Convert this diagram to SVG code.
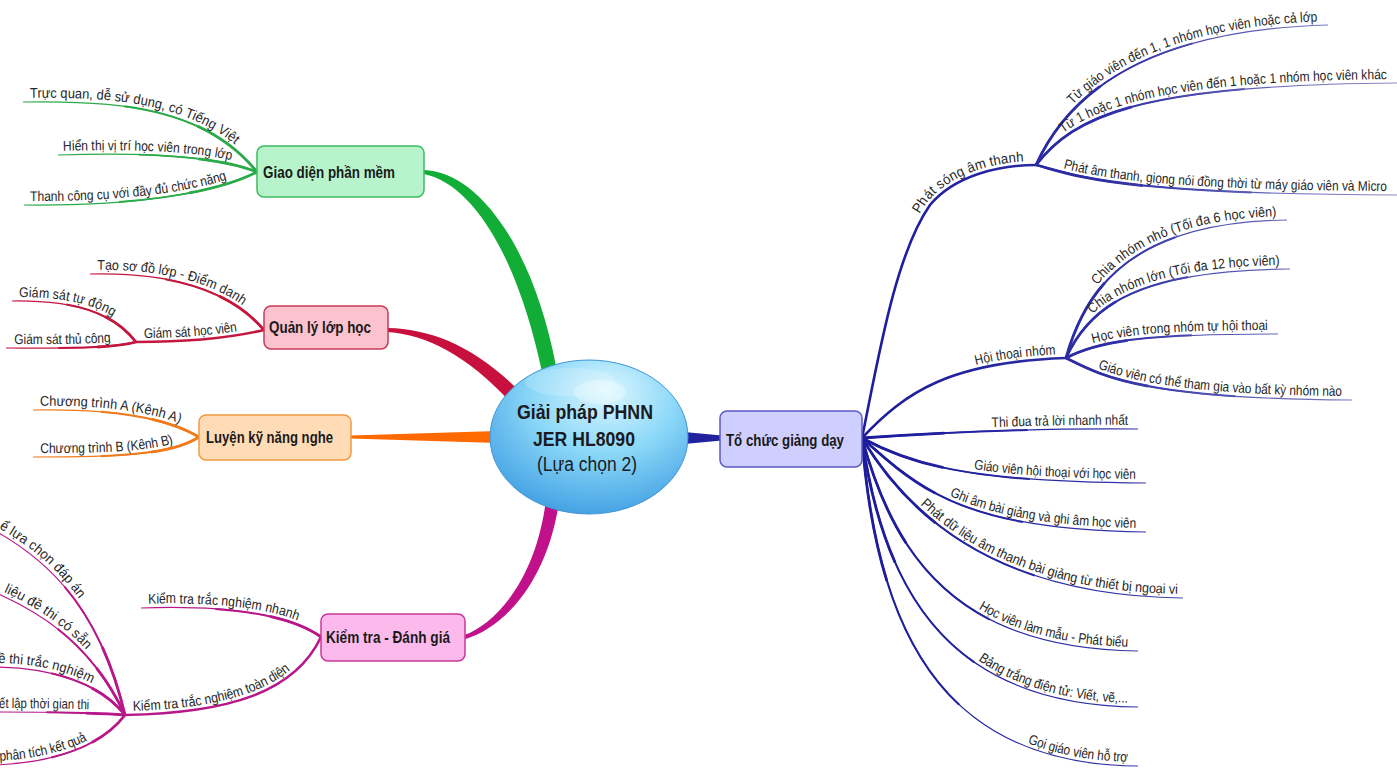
<svg xmlns="http://www.w3.org/2000/svg" xmlns:xlink="http://www.w3.org/1999/xlink" width="1397" height="769" viewBox="0 0 1397 769">
<style>
.lbl{font-family:"Liberation Sans",Arial,sans-serif;font-size:14px;fill:#262626}
.nt{font-family:"Liberation Sans",Arial,sans-serif;font-size:17px;font-weight:bold;fill:#1a1a1a}
.ct{font-family:"Liberation Sans",Arial,sans-serif;font-size:20px;fill:#1a1a22}
.w1{fill:none;stroke-width:1.2}
.w2{fill:none;stroke-width:2;stroke-dasharray:60 200}
.w3{fill:none;stroke-width:2.8;stroke-dasharray:30 200}
.tr{fill:none;stroke-width:2.6}
.L2{stroke-dashoffset:-40}
.L3{stroke-dashoffset:-70}
.green{stroke:#2aaa48}
.red{stroke:#c4163f}
.orange{stroke:#f07a1a}
.mag{stroke:#b8178a}
.blue{stroke:url(#gBlue)}
</style>
<defs>
<linearGradient id="gBlue" gradientUnits="userSpaceOnUse" x1="862" y1="0" x2="1397" y2="0">
<stop offset="0" stop-color="#1c1c9c"/><stop offset="0.45" stop-color="#2e2ea6"/><stop offset="1" stop-color="#8a8ac4"/>
</linearGradient>
<radialGradient id="gBall" cx="0.55" cy="0.3" r="0.8" fx="0.6" fy="0.2">
<stop offset="0" stop-color="#dcf7ff"/><stop offset="0.45" stop-color="#8cd8f8"/><stop offset="0.85" stop-color="#4ca8e6"/><stop offset="1" stop-color="#3a8fd6"/>
</radialGradient>
<path id="g1" pathLength="100" d="M23,102 C120,100 205,108 257,172"/>
<path id="g2" pathLength="100" d="M58,155 C150,152 220,157 257,172"/>
<path id="g3" pathLength="100" d="M24,205 C120,206 210,196 257,172"/>
<path id="r1" pathLength="100" d="M90,274 C170,272 230,290 264,330"/>
<path id="r2" pathLength="100" d="M136,342 C190,342 230,338 264,330"/>
<path id="r3" pathLength="100" d="M12,301 C80,300 115,315 136,342"/>
<path id="r4" pathLength="100" d="M6,348 C60,348 110,349 136,342"/>
<path id="o1" pathLength="100" d="M33,410 C120,408 170,420 199,437"/>
<path id="o2" pathLength="100" d="M33,457 C110,457 170,456 199,437"/>
<path id="m1" pathLength="100" d="M141,608 C230,605 290,615 321,637"/>
<path id="m2" pathLength="100" d="M125,715 C230,713 295,692 321,637"/>
<path id="m3" pathLength="100" d="M-10,528 C50,560 100,610 125,715"/>
<path id="m4" pathLength="100" d="M-6,592 C35,610 90,640 125,715"/>
<path id="m5" pathLength="100" d="M-6,667 C50,667 100,683 125,715"/>
<path id="m6" pathLength="100" d="M-6,712 C50,712 100,713 125,715"/>
<path id="m7" pathLength="100" d="M-6,765 C50,763 100,748 125,715"/>
<path id="b1" pathLength="100" d="M862,438 C878,360 895,255 930,205 C955,175 1000,165 1036,165"/>
<path id="b1a" pathLength="100" d="M1036,165 C1070,90 1150,30 1328,25"/>
<path id="b1b" pathLength="100" d="M1036,165 C1075,115 1140,85 1397,83"/>
<path id="b1c" pathLength="100" d="M1036,165 C1075,175 1110,194 1397,195"/>
<path id="b2" pathLength="100" d="M862,438 C905,392 950,362 1066,358"/>
<path id="b2a" pathLength="100" d="M1066,358 C1085,290 1130,222 1287,220"/>
<path id="b2b" pathLength="100" d="M1066,358 C1090,305 1140,270 1290,269"/>
<path id="b2c" pathLength="100" d="M1066,358 C1100,340 1150,334 1278,334"/>
<path id="b2d" pathLength="100" d="M1066,358 C1100,375 1140,399 1352,400"/>
<path id="b3" pathLength="100" d="M862,438 C950,432 1050,428 1138,429"/>
<path id="b4" pathLength="100" d="M862,438 C920,470 990,482 1146,483"/>
<path id="b5" pathLength="100" d="M862,438 C920,490 965,530 1146,532"/>
<path id="b6" pathLength="100" d="M862,438 C905,510 990,596 1183,598"/>
<path id="b7" pathLength="100" d="M862,438 C895,560 960,649 1138,651"/>
<path id="b8" pathLength="100" d="M862,438 C885,600 955,705 1138,707"/>
<path id="b9" pathLength="100" d="M862,438 C878,650 955,765 1138,766"/>
</defs>
<rect width="1397" height="769" fill="#ffffff"/>
<g id="connectors">
<path d="M424,170 C478,172 533,246 556,366 L542,372 C517,254 472,184 424,174 Z" fill="#12ad36"/>
<path d="M388,328 C432,329 478,347 525,397 L515,407 C470,357 428,335 388,332 Z" fill="#c8103e"/>
<path d="M351,435.5 L497,431 L497,443 L351,438.5 Z" fill="#ff6a00"/>
<path d="M464.4,635.1 C498,622 536,578 546,500 L559,502 C547,583 503,628 465.6,638.9 Z" fill="#c0108a"/>
<path d="M684,432 L722,435.5 L722,440.5 L684,444 Z" fill="#2222a0"/>
<g>
<use href="#g1" class="w1 green"/><use href="#g1" class="w2 L2 green"/><use href="#g1" class="w3 L3 green"/>
<use href="#g2" class="w1 green"/><use href="#g2" class="w2 L2 green"/><use href="#g2" class="w3 L3 green"/>
<use href="#g3" class="w1 green"/><use href="#g3" class="w2 L2 green"/><use href="#g3" class="w3 L3 green"/>
</g>
<g>
<use href="#r1" class="w1 red"/><use href="#r1" class="w2 L2 red"/><use href="#r1" class="w3 L3 red"/>
<use href="#r2" class="tr red"/>
<use href="#r3" class="w1 red"/><use href="#r3" class="w2 L2 red"/><use href="#r3" class="w3 L3 red"/>
<use href="#r4" class="w1 red"/><use href="#r4" class="w2 L2 red"/><use href="#r4" class="w3 L3 red"/>
</g>
<g>
<use href="#o1" class="w1 orange"/><use href="#o1" class="w2 L2 orange"/><use href="#o1" class="w3 L3 orange"/>
<use href="#o2" class="w1 orange"/><use href="#o2" class="w2 L2 orange"/><use href="#o2" class="w3 L3 orange"/>
</g>
<g>
<use href="#m1" class="w1 mag"/><use href="#m1" class="w2 L2 mag"/><use href="#m1" class="w3 L3 mag"/>
<use href="#m2" class="tr mag"/>
<use href="#m3" class="w1 mag"/><use href="#m3" class="w2 L2 mag"/><use href="#m3" class="w3 L3 mag"/>
<use href="#m4" class="w1 mag"/><use href="#m4" class="w2 L2 mag"/><use href="#m4" class="w3 L3 mag"/>
<use href="#m5" class="w1 mag"/><use href="#m5" class="w2 L2 mag"/><use href="#m5" class="w3 L3 mag"/>
<use href="#m6" class="w1 mag"/><use href="#m6" class="w2 L2 mag"/><use href="#m6" class="w3 L3 mag"/>
<use href="#m7" class="w1 mag"/><use href="#m7" class="w2 L2 mag"/><use href="#m7" class="w3 L3 mag"/>
</g>
<g>
<use href="#b1" class="tr blue"/>
<use href="#b1a" class="w1 blue"/><use href="#b1a" class="w2 blue"/><use href="#b1a" class="w3 blue"/>
<use href="#b1b" class="w1 blue"/><use href="#b1b" class="w2 blue"/><use href="#b1b" class="w3 blue"/>
<use href="#b1c" class="w1 blue"/><use href="#b1c" class="w2 blue"/><use href="#b1c" class="w3 blue"/>
<use href="#b2" class="tr blue"/>
<use href="#b2a" class="w1 blue"/><use href="#b2a" class="w2 blue"/><use href="#b2a" class="w3 blue"/>
<use href="#b2b" class="w1 blue"/><use href="#b2b" class="w2 blue"/><use href="#b2b" class="w3 blue"/>
<use href="#b2c" class="w1 blue"/><use href="#b2c" class="w2 blue"/><use href="#b2c" class="w3 blue"/>
<use href="#b2d" class="w1 blue"/><use href="#b2d" class="w2 blue"/><use href="#b2d" class="w3 blue"/>
<use href="#b3" class="w1 blue"/><use href="#b3" class="w2 blue"/><use href="#b3" class="w3 blue"/>
<use href="#b4" class="w1 blue"/><use href="#b4" class="w2 blue"/><use href="#b4" class="w3 blue"/>
<use href="#b5" class="w1 blue"/><use href="#b5" class="w2 blue"/><use href="#b5" class="w3 blue"/>
<use href="#b6" class="w1 blue"/><use href="#b6" class="w2 blue"/><use href="#b6" class="w3 blue"/>
<use href="#b7" class="w1 blue"/><use href="#b7" class="w2 blue"/><use href="#b7" class="w3 blue"/>
<use href="#b8" class="w1 blue"/><use href="#b8" class="w2 blue"/><use href="#b8" class="w3 blue"/>
<use href="#b9" class="w1 blue"/><use href="#b9" class="w2 blue"/><use href="#b9" class="w3 blue"/>
</g>
<g id="labels">
<text class="lbl" dx="7" dy="-4"><textPath href="#g1" textLength="212" lengthAdjust="spacingAndGlyphs">Trực quan, dễ sử dụng, có Tiếng Việt</textPath></text>
<text class="lbl" dx="5" dy="-4"><textPath href="#g2" textLength="168" lengthAdjust="spacingAndGlyphs">Hiển thị vị trí học viên trong lớp</textPath></text>
<text class="lbl" dx="6" dy="-4"><textPath href="#g3" textLength="200" lengthAdjust="spacingAndGlyphs">Thanh công cụ với đầy đủ chức năng</textPath></text>
<text class="lbl" dx="7" dy="-4"><textPath href="#r1" textLength="150" lengthAdjust="spacingAndGlyphs">Tạo sơ đồ lớp - Điểm danh</textPath></text>
<text class="lbl" dx="8" dy="-4"><textPath href="#r2" textLength="94" lengthAdjust="spacingAndGlyphs">Giám sát học viên</textPath></text>
<text class="lbl" dx="7" dy="-4"><textPath href="#r3" textLength="95" lengthAdjust="spacingAndGlyphs">Giám sát tự động</textPath></text>
<text class="lbl" dx="8" dy="-4"><textPath href="#r4" textLength="97" lengthAdjust="spacingAndGlyphs">Giám sát thủ công</textPath></text>
<text class="lbl" dx="7" dy="-4"><textPath href="#o1" textLength="140" lengthAdjust="spacingAndGlyphs">Chương trình A (Kênh A)</textPath></text>
<text class="lbl" dx="7" dy="-4"><textPath href="#o2" textLength="135" lengthAdjust="spacingAndGlyphs">Chương trình B (Kênh B)</textPath></text>
<text class="lbl" dx="7" dy="-4"><textPath href="#m1" textLength="150" lengthAdjust="spacingAndGlyphs">Kiểm tra trắc nghiệm nhanh</textPath></text>
<text class="lbl" dx="8" dy="-4"><textPath href="#m2" textLength="168" lengthAdjust="spacingAndGlyphs">Kiểm tra trắc nghiệm toàn diện</textPath></text>
<text class="lbl" dx="8" dy="-4"><textPath href="#m3" textLength="106" lengthAdjust="spacingAndGlyphs">ể lựa chọn đáp án</textPath></text>
<text class="lbl" dx="9" dy="-4"><textPath href="#m4" textLength="100" lengthAdjust="spacingAndGlyphs">liệu đề thi có sẵn</textPath></text>
<text class="lbl" dx="4" dy="-4"><textPath href="#m5" textLength="95" lengthAdjust="spacingAndGlyphs">ề thi trắc nghiệm</textPath></text>
<text class="lbl" dx="5" dy="-4"><textPath href="#m6" textLength="90" lengthAdjust="spacingAndGlyphs">ết lập thời gian thi</textPath></text>
<text class="lbl" dx="6" dy="-4"><textPath href="#m7" textLength="92" lengthAdjust="spacingAndGlyphs">phân tích kết quả</textPath></text>
<text class="lbl" text-anchor="end" dx="-12" dy="-4"><textPath href="#b1" startOffset="100%" textLength="118" lengthAdjust="spacingAndGlyphs">Phát sóng âm thanh</textPath></text>
<text class="lbl" text-anchor="end" dx="-10" dy="-4"><textPath href="#b1a" startOffset="100%" textLength="262" lengthAdjust="spacingAndGlyphs">Từ giáo viên đến 1, 1 nhóm học viên hoặc cả lớp</textPath></text>
<text class="lbl" text-anchor="end" dx="-10" dy="-4"><textPath href="#b1b" startOffset="100%" textLength="330" lengthAdjust="spacingAndGlyphs">Từ 1 hoặc 1 nhóm học viên đến 1 hoặc 1 nhóm học viên khác</textPath></text>
<text class="lbl" text-anchor="end" dx="-10" dy="-4"><textPath href="#b1c" startOffset="100%" textLength="326" lengthAdjust="spacingAndGlyphs">Phát âm thanh, giọng nói đồng thời từ máy giáo viên và Micro</textPath></text>
<text class="lbl" text-anchor="end" dx="-10" dy="-4"><textPath href="#b2" startOffset="100%" textLength="80" lengthAdjust="spacingAndGlyphs">Hội thoại nhóm</textPath></text>
<text class="lbl" text-anchor="end" dx="-10" dy="-4"><textPath href="#b2a" startOffset="100%" textLength="195" lengthAdjust="spacingAndGlyphs">Chia nhóm nhỏ (Tối đa 6 học viên)</textPath></text>
<text class="lbl" text-anchor="end" dx="-10" dy="-4"><textPath href="#b2b" startOffset="100%" textLength="195" lengthAdjust="spacingAndGlyphs">Chia nhóm lớn (Tối đa 12 học viên)</textPath></text>
<text class="lbl" text-anchor="end" dx="-10" dy="-4"><textPath href="#b2c" startOffset="100%" textLength="175" lengthAdjust="spacingAndGlyphs">Học viên trong nhóm tự hội thoại</textPath></text>
<text class="lbl" text-anchor="end" dx="-10" dy="-4"><textPath href="#b2d" startOffset="100%" textLength="248" lengthAdjust="spacingAndGlyphs">Giáo viên có thể tham gia vào bất kỳ nhóm nào</textPath></text>
<text class="lbl" text-anchor="end" dx="-10" dy="-4"><textPath href="#b3" startOffset="100%" textLength="136" lengthAdjust="spacingAndGlyphs">Thi đua trả lời nhanh nhất</textPath></text>
<text class="lbl" text-anchor="end" dx="-10" dy="-4"><textPath href="#b4" startOffset="100%" textLength="163" lengthAdjust="spacingAndGlyphs">Giáo viên hội thoại với học viên</textPath></text>
<text class="lbl" text-anchor="end" dx="-10" dy="-4"><textPath href="#b5" startOffset="100%" textLength="192" lengthAdjust="spacingAndGlyphs">Ghi âm bài giảng và ghi âm học viên</textPath></text>
<text class="lbl" text-anchor="end" dx="-5" dy="-4"><textPath href="#b6" startOffset="100%" textLength="282" lengthAdjust="spacingAndGlyphs">Phát dữ liệu âm thanh bài giảng từ thiết bị ngoại vi</textPath></text>
<text class="lbl" text-anchor="end" dx="-10" dy="-4"><textPath href="#b7" startOffset="100%" textLength="158" lengthAdjust="spacingAndGlyphs">Học viên làm mẫu - Phát biểu</textPath></text>
<text class="lbl" text-anchor="end" dx="-10" dy="-4"><textPath href="#b8" startOffset="100%" textLength="160" lengthAdjust="spacingAndGlyphs">Bảng trắng điện tử: Viết, vẽ,...</textPath></text>
<text class="lbl" text-anchor="end" dx="-10" dy="-4"><textPath href="#b9" startOffset="100%" textLength="104" lengthAdjust="spacingAndGlyphs">Gọi giáo viên hỗ trợ</textPath></text>
</g>
</g>
<g id="center">
<ellipse cx="589" cy="437" rx="99" ry="77" fill="url(#gBall)" stroke="#3f95d8" stroke-width="1"/>
<ellipse cx="600" cy="392" rx="26" ry="12" fill="#ffffff" opacity="0.3"/>
<ellipse cx="570" cy="382" rx="45" ry="14" fill="#ffffff" opacity="0.18"/>
<text class="ct" x="585" y="419" text-anchor="middle" font-weight="bold" textLength="136" lengthAdjust="spacingAndGlyphs">Giải pháp PHNN</text>
<text class="ct" x="584" y="446" text-anchor="middle" font-weight="bold" textLength="102" lengthAdjust="spacingAndGlyphs">JER HL8090</text>
<text class="ct" x="587" y="471" text-anchor="middle" textLength="100" lengthAdjust="spacingAndGlyphs">(Lựa chọn 2)</text>
</g>
<g id="n-giaodien">
<rect x="257" y="146" width="167" height="51" rx="7" fill="#b8f4cb" stroke="#3dbb60" stroke-width="1.5"/>
<text class="nt" x="263" y="178" textLength="132" lengthAdjust="spacingAndGlyphs">Giao diện phần mềm</text>
</g>
<g id="n-quanly">
<rect x="264" y="306" width="124" height="43" rx="7" fill="#fcc2cd" stroke="#c83a5a" stroke-width="1.5"/>
<text class="nt" x="269" y="333" textLength="102" lengthAdjust="spacingAndGlyphs">Quản lý lớp học</text>
</g>
<g id="n-luyen">
<rect x="199" y="415" width="152" height="45" rx="7" fill="#ffdcb6" stroke="#f09a40" stroke-width="1.5"/>
<text class="nt" x="206" y="443" textLength="127" lengthAdjust="spacingAndGlyphs">Luyện kỹ năng nghe</text>
</g>
<g id="n-kiemtra">
<rect x="321" y="614" width="144" height="47" rx="7" fill="#fcbaec" stroke="#c8389a" stroke-width="1.5"/>
<text class="nt" x="326" y="643" textLength="124" lengthAdjust="spacingAndGlyphs">Kiểm tra - Đánh giá</text>
</g>
<g id="n-tochuc">
<rect x="720" y="411" width="142" height="56" rx="7" fill="#cfcfff" stroke="#5a5ac8" stroke-width="1.5"/>
<text class="nt" x="726" y="446" font-weight="normal" textLength="118" lengthAdjust="spacingAndGlyphs">Tổ chức giảng dạy</text>
</g>
</svg>
